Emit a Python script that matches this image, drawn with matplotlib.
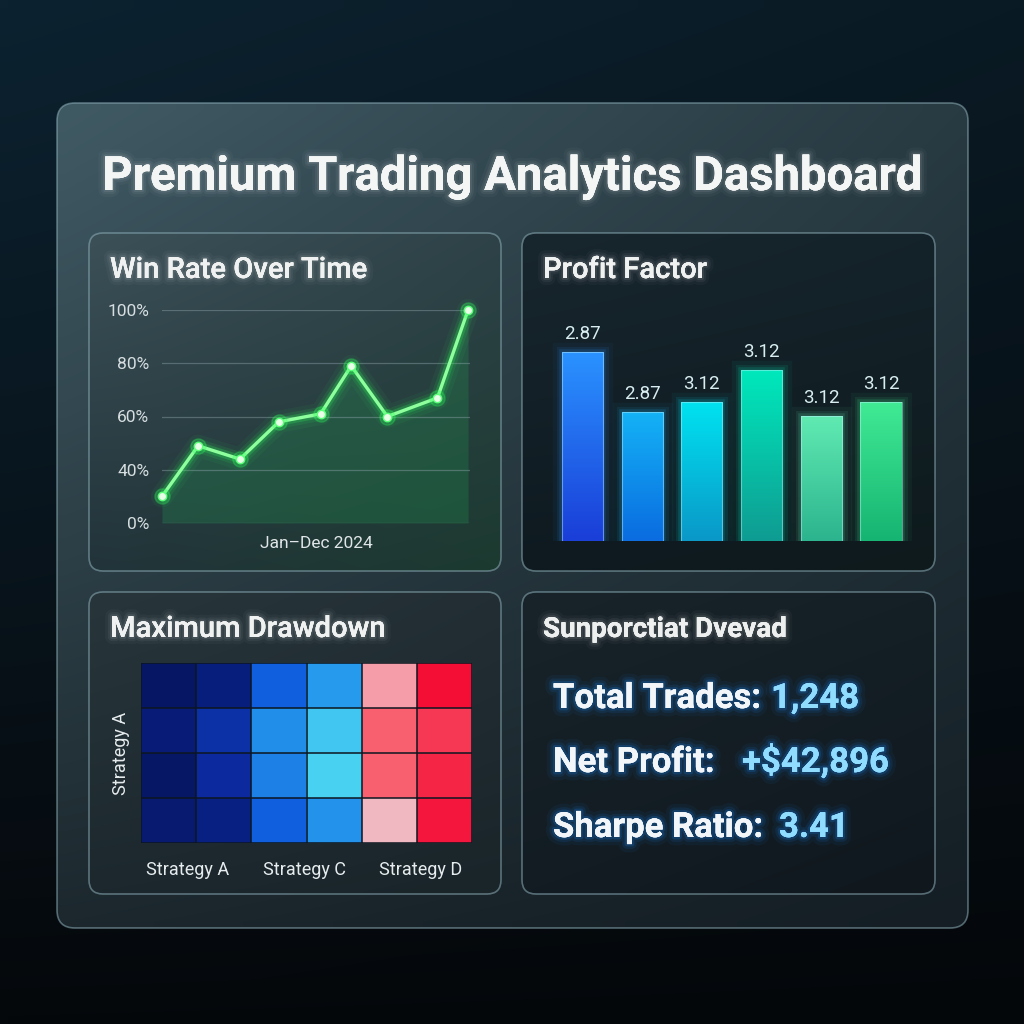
import matplotlib.pyplot as plt
import numpy as np
from matplotlib.colors import LinearSegmentedColormap, to_rgb
from matplotlib.patches import FancyBboxPatch
from matplotlib.scale import FuncScale
import matplotlib.patheffects as pe

plt.rcParams['font.family'] = ['Roboto', 'DejaVu Sans']

# Data
win_month = [1, 2.3, 3.8, 5.2, 6.7, 7.8, 9.1, 10.9, 12]
win_rate = [20, 49, 44, 58, 61, 79, 60, 67, 100]
win_ticks = [0, 40, 60, 80, 100]

pf_values = [3.78, 2.58, 2.78, 3.42, 2.50, 2.78]
pf_labels = ['2.87', '2.87', '3.12', '3.12', '3.12', '3.12']
pf_top = ['#2a92ff', '#14b2f6', '#00e2f0', '#00e8bc', '#60eab2', '#40ea94']
pf_bot = ['#1a3ed8', '#0a6ce0', '#0a98c8', '#0f9c92', '#2cb48e', '#16b472']

dd_values = np.array([
    [0.02, 0.10, 0.35, 0.48, 0.70, 0.97],
    [0.08, 0.22, 0.45, 0.56, 0.80, 0.88],
    [0.03, 0.20, 0.42, 0.58, 0.80, 0.92],
    [0.06, 0.12, 0.35, 0.46, 0.66, 0.95],
])
dd_xlabels = ['Strategy A', 'Strategy C', 'Strategy D']
dd_xpos = [0.35, 2.47, 4.57]

stat_names = ['Total Trades:', 'Net Profit:', 'Sharpe Ratio:']
stat_values = ['1,248', '+$42,896', '3.41']

W = 1024
fig = plt.figure(figsize=(10.24, 10.24), dpi=100)
bg = fig.add_axes([0, 0, 1, 1])
bg.axis('off')


def corner_img(tl, tr, bl, br, n=64):
    t = np.linspace(0, 1, n)
    yy, xx = np.meshgrid(t, t, indexing='ij')
    c = [np.array(to_rgb(k)) for k in (tl, tr, bl, br)]
    img = ((1 - yy) * (1 - xx))[..., None] * c[0] + ((1 - yy) * xx)[..., None] * c[1] \
        + (yy * (1 - xx))[..., None] * c[2] + (yy * xx)[..., None] * c[3]
    return img


def panel(x0, y0, x1, y1, cols, r=14, z=1):
    p = FancyBboxPatch((x0, y0), x1 - x0, y1 - y0, boxstyle=f'round,pad=0,rounding_size={r}',
                       facecolor='none', edgecolor='#8fb0ba', lw=1.2, alpha=0.55, zorder=z + 0.5)
    clip = FancyBboxPatch((x0, y0), x1 - x0, y1 - y0, boxstyle=f'round,pad=0,rounding_size={r}',
                          facecolor='none', edgecolor='none', zorder=z)
    bg.add_patch(clip)
    im = bg.imshow(corner_img(*cols), extent=(x0, x1, y1, y0), aspect='auto', zorder=z,
                   interpolation='bilinear')
    im.set_clip_path(clip)
    bg.add_patch(p)


def soft_glow(color, widths=(10, 6, 3), alphas=(0.04, 0.07, 0.12)):
    return [pe.withStroke(linewidth=w, foreground=color, alpha=a)
            for w, a in zip(widths, alphas)] + [pe.Normal()]


# background
bg.imshow(corner_img('#0c2230', '#0a1a24', '#05080b', '#04070a'), extent=(0, W, W, 0),
          aspect='auto', zorder=0, interpolation='bilinear')
panel(57, 103, 968, 928, ('#405a64', '#283a42', '#1c282e', '#141e24'), r=18, z=1)
panel(89, 233, 501, 571, ('#3c5058', '#2e4248', '#22343a', '#1c3a30'), z=2)
panel(522, 233, 935, 571, ('#18262e', '#14222a', '#0e1a20', '#0e1a1c'), z=2)
panel(89, 592, 501, 894, ('#28363c', '#222e34', '#1c282e', '#1a252a'), z=2)
panel(522, 592, 935, 894, ('#18242a', '#141f26', '#121c22', '#10181e'), z=2)

glow_w = soft_glow('#ffffff', alphas=(0.03, 0.05, 0.08))
bg.text(512, 190, 'Premium Trading Analytics Dashboard', ha='center', va='baseline',
        fontsize=34, fontweight='bold', color='#f4f6f6', zorder=5, path_effects=glow_w)
for x, y, s in [(110, 278, 'Win Rate Over Time'), (543, 278, 'Profit Factor'),
                (110, 637, 'Maximum Drawdown')]:
    bg.text(x, y, s, ha='left', va='baseline', fontsize=21, fontweight='medium',
            color='#f0f2f2', zorder=5, path_effects=glow_w)
bg.text(543, 637, 'Sunporctiat Dvevad', ha='left', va='baseline', fontsize=20,
        fontweight='bold', color='#eef0f0', zorder=5, path_effects=glow_w)

# stats
glow_b = soft_glow('#1a8cff', widths=(12, 7, 3.5), alphas=(0.06, 0.1, 0.18))
for name, val, y, xv in zip(stat_names, stat_values, [708, 772, 837], [771, 742, 779]):
    bg.text(553, y, name, ha='left', va='baseline', fontsize=25, fontweight='bold',
            color='#f2f6f8', zorder=5, path_effects=glow_b)
    bg.text(xv, y, val, ha='left', va='baseline', fontsize=25, fontweight='bold',
            color='#8fdcff', zorder=5, path_effects=glow_b)

bg.set_xlim(0, W)
bg.set_ylim(W, 0)


def px_axes(x0, y0, x1, y1):
    ax = fig.add_axes([x0 / W, 1 - y1 / W, (x1 - x0) / W, (y1 - y0) / W])
    ax.set_facecolor('none')
    for s in ax.spines.values():
        s.set_visible(False)
    return ax


# win rate line
ax1 = px_axes(162, 310, 470, 523)
pos = list(range(len(win_ticks)))
ax1.set_yscale(FuncScale(ax1.yaxis, (lambda v: np.interp(v, win_ticks, pos),
                                     lambda p: np.interp(p, pos, win_ticks))))
ax1.set_ylim(0, 100)
ax1.set_xlim(win_month[0], 12.07)
ax1.set_yticks(win_ticks, [f'{t}%' for t in win_ticks])
ax1.set_xticks([])
ax1.grid(axis='y', color='#8aa0a8', alpha=0.45, lw=0.9)
ax1.tick_params(axis='y', length=0, pad=9, labelsize=12.5, labelcolor='#d6dee0')
ax1.fill_between(win_month, win_rate, 0, color='#1fd060', alpha=0.17, lw=0)
for lw, a in [(16, 0.05), (10, 0.1), (6, 0.22)]:
    ax1.plot(win_month, win_rate, color='#2cff5a', lw=lw, alpha=a, clip_on=False,
             solid_capstyle='round', solid_joinstyle='round')
ax1.plot(win_month, win_rate, color='#8dff9c', lw=2.4, clip_on=False)
ax1.plot(win_month, win_rate, 'o', ms=11, color='#2cff5a', alpha=0.25, clip_on=False)
ax1.plot(win_month, win_rate, 'o', ms=6, color='#e6ffe6', mec='#5cff7a', mew=1, clip_on=False)
ax1.set_xlabel('Jan\u2013Dec 2024', fontsize=12.5, color='#e0e6e8', labelpad=9)

# profit factor bars
ax2 = px_axes(552, 300, 912, 541)
xb = np.arange(len(pf_values))
ax2.set_xticks([])
ax2.set_yticks([])
for lw, a in [(14, 0.05), (8, 0.09), (4, 0.15)]:
    for i in xb:
        ax2.bar(xb[i], pf_values[i], width=0.69, fill=False, edgecolor=pf_top[i], lw=lw, alpha=a)
bars = ax2.bar(xb, pf_values, width=0.69, color='none', edgecolor='none')
for i, b in enumerate(bars):
    cm = LinearSegmentedColormap.from_list('b', [pf_top[i], pf_bot[i]])
    im = ax2.imshow(np.linspace(0, 1, 64).reshape(-1, 1), cmap=cm, aspect='auto',
                    extent=(b.get_x(), b.get_x() + b.get_width(), 0, b.get_height()), zorder=2)
    im.set_clip_path(b)
    ax2.bar(xb[i], pf_values[i], width=0.69, fill=False, edgecolor='#bff6ff', lw=0.8,
            alpha=0.45, zorder=3)
    ax2.text(xb[i], pf_values[i] + 0.18, pf_labels[i], ha='center', va='bottom', fontsize=13.5,
             color='#d8eef0', zorder=4)
ax2.set_xlim(-0.51, 5.52)
ax2.set_ylim(0, 4.82)

# drawdown heatmap
ax3 = px_axes(141, 663, 472, 843)
dd_cmap = LinearSegmentedColormap.from_list('dd', [
    (0.0, '#06145e'), (0.2, '#0c2a9e'), (0.35, '#1060e0'), (0.5, '#2aa6f0'),
    (0.6, '#50dcf2'), (0.66, '#f4b8c0'), (0.8, '#f86070'), (1.0, '#f4002c')])
ax3.imshow(dd_values, cmap=dd_cmap, vmin=0, vmax=1, aspect='auto', interpolation='nearest',
           extent=(-0.5, 5.5, 3.5, -0.5))
for k in np.arange(-0.5, 6, 1):
    ax3.axvline(k, color='#0c1620', lw=1.1)
for k in np.arange(-0.5, 4, 1):
    ax3.axhline(k, color='#0c1620', lw=1.1)
ax3.set_xticks(dd_xpos, dd_xlabels)
ax3.set_yticks([])
ax3.tick_params(axis='x', length=0, pad=13, labelsize=13, labelcolor='#e6ecee')
ax3.set_ylabel('Strategy A', fontsize=13, color='#e6ecee', labelpad=8)

fig.savefig('out.png', dpi=100)
